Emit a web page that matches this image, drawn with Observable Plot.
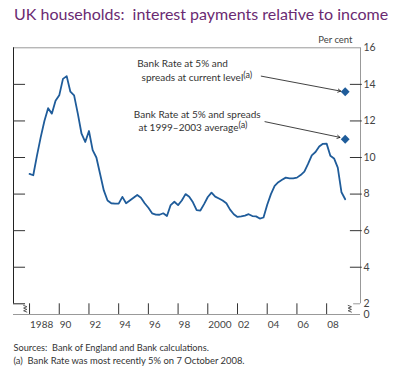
<!DOCTYPE html>
<html><head><meta charset="utf-8">
<script src="https://cdn.jsdelivr.net/npm/d3@7"></script>
<script src="https://cdn.jsdelivr.net/npm/@observablehq/plot@0.6"></script>
<style>
body{margin:0;background:#fff}
#chart svg{font-family:Lato,"Open Sans",sans-serif;overflow:visible}
</style>
</head><body><div id="chart"></div>
<script>
// Quarterly series, first observation 1988 Q1
const firstQuarter = 1988;
const interestRatio = [
  9.10, 9.03, 10.1, 11.1, 12.0, 12.7, 12.4, 13.1,
  13.4, 14.3, 14.45, 13.6, 13.4, 12.4, 11.3, 10.85,
  11.45, 10.4, 10.0, 9.1, 8.2, 7.65, 7.5, 7.48,
  7.48, 7.85, 7.5, 7.65, 7.8, 7.95, 7.8, 7.5,
  7.25, 6.95, 6.88, 6.87, 6.95, 6.8, 7.4, 7.58,
  7.4, 7.65, 8.0, 7.85, 7.55, 7.12, 7.1, 7.45,
  7.84, 8.08, 7.86, 7.76, 7.65, 7.5, 7.15, 6.9,
  6.75, 6.78, 6.82, 6.9, 6.8, 6.78, 6.66, 6.72,
  7.42, 8.0, 8.45, 8.65, 8.78, 8.9, 8.86, 8.86,
  8.9, 9.04, 9.23, 9.65, 10.12, 10.3, 10.6, 10.75,
  10.76, 10.1, 9.95, 9.45, 8.1, 7.72
];
const scenarioYear = 2009.25;
const scenarioValues = [13.6, 11.0];
const scenarioLines = [
  ["Bank Rate at 5% and", "spreads at current level"],
  ["Bank Rate at 5% and spreads", "at 1999\u20132003 average"]
];
const noteMark = "(a)";
const yTickValues = [0, 2, 4, 6, 8, 10, 12, 14, 16];
const xTickYears = [1988, 1990, 1992, 1994, 1996, 1998, 2000, 2002, 2004, 2006, 2008];
const xTickLabels = ["1988", "90", "92", "94", "96", "98", "2000", "02", "04", "06", "08"];
const titleText = "UK households:\u00A0 interest payments relative to income";
const unitText = "Per cent";
const sourceText = "Sources:\u00A0 Bank of England and Bank calculations.";
const noteText = "(a)\u00A0 Bank Rate was most recently 5% on 7 October 2008.";

// layout helpers
const xLeft = 1986.92, xRight = 2010.28;
const blue = "#1f5c9a";
// broken axis: the 0–2 band is compressed
const squeeze = 0.2925;
const yT = v => v >= 2 ? v : 2 - (2 - v) * squeeze;
const series = interestRatio.map((v, i) => ({t: firstQuarter + i * 0.25, v}));
const annot = [
  {x: 1995.25, y: 14.95, text: scenarioLines[0][0], sup: false},
  {x: 1995.54, y: 14.18, text: scenarioLines[0][1], sup: true},
  {x: 1995.02, y: 12.17, text: scenarioLines[1][0], sup: false},
  {x: 1995.34, y: 11.45, text: scenarioLines[1][1], sup: true}
];
const arrows = [
  {x1: 2003.6, y1: 14.45, x2: 2008.95, y2: 13.63},
  {x1: 2003.85, y1: 11.96, x2: 2008.9, y2: 11.1}
];
const breakL = [[1987.6,1.7],[1987.82,1.45],[1987.6,1.2],[1987.82,0.95],[1987.6,0.7],[1987.82,0.45]].map(([x,y])=>({x,y}));
const breakR = [[2009.45,1.7],[2009.67,1.45],[2009.45,1.2],[2009.67,0.95],[2009.45,0.7],[2009.67,0.45]].map(([x,y])=>({x,y}));

const chart = Plot.plot({
  width: 400, height: 375,
  marginLeft: 13, marginRight: 40, marginTop: 47.3, marginBottom: 61,
  x: {domain: [xLeft, xRight], axis: null},
  y: {domain: [yT(0), 16], transform: yT, axis: null},
  style: {fontFamily: "Lato", fontSize: "10px", color: "#333", background: "white"},
  marks: [
    // frame
    Plot.ruleY([16], {x1: xLeft, x2: xRight, stroke: "#999"}),
    Plot.ruleX([xLeft], {y1: 2, y2: 16, stroke: "#222"}),
    Plot.ruleX([xRight], {y1: 2, y2: 16, stroke: "#999"}),
    Plot.ruleY([0], {x1: xLeft, x2: xRight, stroke: "#999"}),
    Plot.ruleY([2], {x1: xLeft, x2: 1987.73, stroke: "#222"}),
    Plot.ruleY([2], {x1: 2009.82, x2: xRight, stroke: "#999"}),
    // y ticks
    Plot.ruleY(yTickValues.filter(d => d > 2 && d < 16), {x1: xLeft, x2: 1987.73, stroke: "#333"}),
    Plot.ruleY(yTickValues.filter(d => d > 2 && d < 16), {x1: 2009.6, x2: 2010.4, stroke: "#333"}),
    Plot.text(yTickValues, {x: xRight, y: d => d, text: d => String(d), textAnchor: "start", dx: 3, fontSize: 10.5, fill: "#444"}),
    // x ticks
    Plot.ruleX(xTickYears, {y1: 0, y2: 2, stroke: "#333"}),
    Plot.text(xTickYears, {x: d => d, y: 0, text: (d, i) => xTickLabels[i], textAnchor: "start", dx: 0.5, dy: 10, fontSize: 10, fill: "#444"}),
    // breaks
    Plot.line(breakL, {x: "x", y: "y", stroke: "#333", strokeWidth: 0.8}),
    Plot.line(breakR, {x: "x", y: "y", stroke: "#333", strokeWidth: 0.8}),
    // data
    Plot.line(series, {x: "t", y: "v", stroke: blue, strokeWidth: 1.8}),
    Plot.dot(scenarioValues, {x: scenarioYear, y: d => d, symbol: "diamond2", fill: blue, r: 4}),
    Plot.arrow(arrows, {x1: "x1", y1: "y1", x2: "x2", y2: "y2", stroke: "#111", strokeWidth: 0.8, headLength: 6}),
    Plot.text(annot, {x: "x", y: "y", text: "text", textAnchor: "start", lineAnchor: "bottom", fontSize: 10, fill: "#333", className: "annot"}),
    // titles
    Plot.text([titleText], {frameAnchor: "top-left", textAnchor: "start", lineAnchor: "bottom", dx: 0.5, dy: -28, fontSize: 16, fill: "#6a2a72"}),
    Plot.text([unitText], {frameAnchor: "top-right", textAnchor: "end", lineAnchor: "bottom", dx: -8, dy: -5.3, fontSize: 9.5, fill: "#444"}),
    Plot.text([sourceText], {frameAnchor: "bottom-left", textAnchor: "start", lineAnchor: "bottom", dy: 36, fontSize: 9.2, fill: "#333"}),
    Plot.text([noteText], {frameAnchor: "bottom-left", textAnchor: "start", lineAnchor: "bottom", dy: 49, fontSize: 9.4, fill: "#333"})
  ]
});
// add the raised note marker "(a)" after the lines that carry it
d3.select(chart).selectAll("g.annot text").each(function(d, i) {
  const row = annot[d];
  if (row && row.sup) {
    d3.select(this).append("tspan").attr("dy", "-3.5").attr("font-size", 9).text(noteMark);
  }
});
document.getElementById("chart").append(chart);
</script>
</body></html>
